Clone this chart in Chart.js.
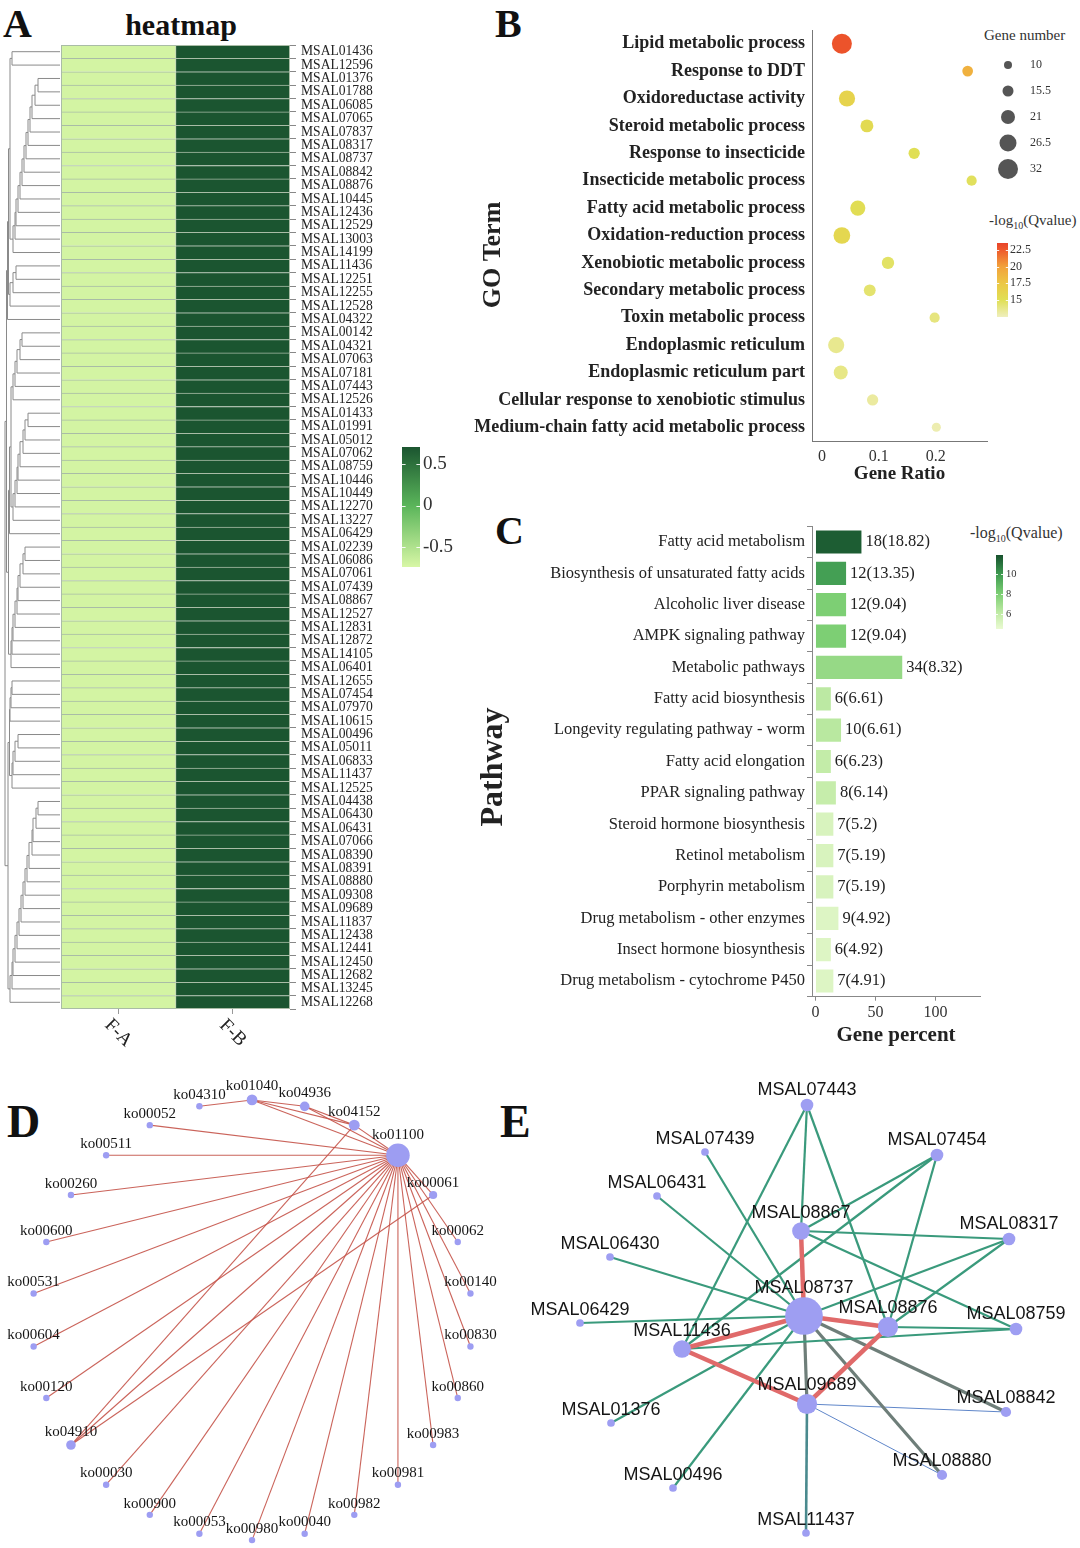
<!DOCTYPE html>
<html><head><meta charset="utf-8">
<script src="https://cdn.jsdelivr.net/npm/chart.js@4.4.1/dist/chart.umd.min.js"></script>
<style>
html,body{margin:0;padding:0;background:#fff;}
body{width:1080px;height:1548px;position:relative;overflow:hidden;font-family:'Liberation Serif',serif;color:#111;}
canvas{position:absolute;}
.t{position:absolute;white-space:nowrap;line-height:1;color:#111;}
.sub{font-size:10px;position:relative;top:4px;}
</style></head><body>
<div class="t" style="left:3px;top:0;font:bold 40px 'Liberation Serif'">A</div>
<div class="t" style="left:495px;top:0;font:bold 40px 'Liberation Serif'">B</div>
<div class="t" style="left:495px;top:507px;font:bold 40px 'Liberation Serif'">C</div>
<div class="t" style="left:7px;top:1095px;font:bold 46px 'Liberation Serif'">D</div>
<div class="t" style="left:500px;top:1095px;font:bold 46px 'Liberation Serif'">E</div>
<div class="t" style="left:81px;width:200px;text-align:center;top:8px;font:bold 30px 'Liberation Serif'">heatmap</div>
<div class="t" style="left:984px;top:27px;font:15px 'Liberation Serif';color:#333">Gene number</div>
<div class="t" style="left:989px;top:212px;font:15px 'Liberation Serif';color:#333">-log<span class="sub">10</span>(Qvalue)</div>
<div class="t" style="left:970px;top:524px;font:16px 'Liberation Serif';color:#333">-log<span class="sub">10</span>(Qvalue)</div>
<script>
// ---------------- DATA ----------------
const genes = ['MSAL01436','MSAL12596','MSAL01376','MSAL01788','MSAL06085','MSAL07065','MSAL07837','MSAL08317','MSAL08737','MSAL08842','MSAL08876','MSAL10445',
'MSAL12436','MSAL12529','MSAL13003','MSAL14199','MSAL11436','MSAL12251','MSAL12255','MSAL12528','MSAL04322','MSAL00142','MSAL04321','MSAL07063',
'MSAL07181','MSAL07443','MSAL12526','MSAL01433','MSAL01991','MSAL05012','MSAL07062','MSAL08759','MSAL10446','MSAL10449','MSAL12270','MSAL13227',
'MSAL06429','MSAL02239','MSAL06086','MSAL07061','MSAL07439','MSAL08867','MSAL12527','MSAL12831','MSAL12872','MSAL14105','MSAL06401','MSAL12655',
'MSAL07454','MSAL07970','MSAL10615','MSAL00496','MSAL05011','MSAL06833','MSAL11437','MSAL12525','MSAL04438','MSAL06430','MSAL06431','MSAL07066',
'MSAL08390','MSAL08391','MSAL08880','MSAL09308','MSAL09689','MSAL11837','MSAL12438','MSAL12441','MSAL12450','MSAL12682','MSAL13245','MSAL12268'];
const samples = ['F-A','F-B'];
const heatFA = [-0.71,-0.71,-0.71,-0.71,-0.71,-0.71,-0.71,-0.71,-0.71,-0.71,-0.71,-0.71,
-0.71,-0.71,-0.71,-0.71,-0.71,-0.71,-0.71,-0.71,-0.71,-0.71,-0.71,-0.71,
-0.71,-0.71,-0.71,-0.71,-0.71,-0.71,-0.71,-0.71,-0.71,-0.71,-0.71,-0.71,
-0.71,-0.71,-0.71,-0.71,-0.71,-0.71,-0.71,-0.71,-0.71,-0.71,-0.71,-0.71,
-0.71,-0.71,-0.71,-0.71,-0.71,-0.71,-0.71,-0.71,-0.71,-0.71,-0.71,-0.71,
-0.71,-0.71,-0.71,-0.71,-0.71,-0.71,-0.71,-0.71,-0.71,-0.71,-0.71,-0.71];
const heatFB = [0.71,0.71,0.71,0.71,0.71,0.71,0.71,0.71,0.71,0.71,0.71,0.71,
0.71,0.71,0.71,0.71,0.71,0.71,0.71,0.71,0.71,0.71,0.71,0.71,
0.71,0.71,0.71,0.71,0.71,0.71,0.71,0.71,0.71,0.71,0.71,0.71,
0.71,0.71,0.71,0.71,0.71,0.71,0.71,0.71,0.71,0.71,0.71,0.71,
0.71,0.71,0.71,0.71,0.71,0.71,0.71,0.71,0.71,0.71,0.71,0.71,
0.71,0.71,0.71,0.71,0.71,0.71,0.71,0.71,0.71,0.71,0.71,0.71];
const heatTicks = [0.5, 0, -0.5];
// dendrogram: ladders of consecutive leaves (merge heights) then merges between them
const dendroGroups = [
 {from:0, to:1, h:[48]},
 {from:2, to:15, h:[22,25,28,30,32,34,36,38,40,42,44,45,47]},
 {from:16, to:19, h:[44,47,50]},
 {from:20, to:20, h:[]},
 {from:21, to:26, h:[38,40,43,45,47]},
 {from:27, to:35, h:[32,35,37,40,42,43,45,47]},
 {from:36, to:36, h:[]},
 {from:37, to:46, h:[35,37,40,42,43,45,47,48,49]},
 {from:47, to:50, h:[48,49,50]},
 {from:51, to:55, h:[42,45,47,48]},
 {from:56, to:71, h:[22,24,27,28,31,33,35,37,39,41,43,45,47,48,50]}
];
const dendroTop = [
 ['g0','g1',50],['m0','g2',51.5],['m1','g3',52.5],['g4','g5',49],['m3','g6',50.5],
 ['m4','g7',51.5],['m2','m5',53.5],['g8','g9',50.5],['m7','g10',52],['m6','m8',55]
];

const goTerms = ['Lipid metabolic process','Response to DDT','Oxidoreductase activity','Steroid metabolic process','Response to insecticide','Insecticide metabolic process','Fatty acid metabolic process','Oxidation-reduction process','Xenobiotic metabolic process','Secondary metabolic process','Toxin metabolic process','Endoplasmic reticulum','Endoplasmic reticulum part','Cellular response to xenobiotic stimulus','Medium-chain fatty acid metabolic process'];
const goRatio = [0.035,0.256,0.044,0.079,0.162,0.263,0.063,0.035,0.116,0.084,0.198,0.025,0.033,0.089,0.201];
const goCount = [32,15,25,19,16,14,23,26,18,17,14,25,21,16,12];
const goQ = [22.8,19.0,16.3,15.5,15.0,14.8,15.2,15.8,14.6,14.4,14.0,13.6,13.8,13.2,12.8];
const goTicks = [0, 0.1, 0.2];
const geneLegend = [10, 15.5, 21, 26.5, 32];
const goQTicks = [22.5, 20, 17.5, 15];

const pathNames = ['Fatty acid metabolism','Biosynthesis of unsaturated fatty acids','Alcoholic liver disease','AMPK signaling pathway','Metabolic pathways','Fatty acid biosynthesis','Longevity regulating pathway - worm','Fatty acid elongation','PPAR signaling pathway','Steroid hormone biosynthesis','Retinol metabolism','Porphyrin metabolism','Drug metabolism - other enzymes','Insect hormone biosynthesis','Drug metabolism - cytochrome P450'];
const pathPercent = [38.3,25.5,25.5,25.5,72.3,12.8,21.3,12.8,17.0,14.9,14.9,14.9,19.1,12.8,14.9];
const pathCount = [18,12,12,12,34,6,10,6,8,7,7,7,9,6,7];
const pathValue = ['18.82','13.35','9.04','9.04','8.32','6.61','6.61','6.23','6.14','5.2','5.19','5.19','4.92','4.92','4.91'];
const pathQ = [11.6,9.8,8.0,8.0,7.3,6.2,6.3,6.0,5.9,5.2,5.2,5.2,5.0,5.0,5.0];
const pathTicks = [0, 50, 100];
const pathQTicks = [10, 8, 6];

const koNodes = ['ko01040','ko04936','ko04152','ko01100','ko00061','ko00062','ko00140','ko00830','ko00860','ko00983','ko00981','ko00982','ko00040','ko00980','ko00053','ko00900','ko00030','ko04910','ko00120','ko00604','ko00531','ko00600','ko00260','ko00511','ko00052','ko04310'];
const koEdges = [
 ['ko01100','ko01040'],['ko01100','ko04936'],['ko01100','ko04152'],['ko01100','ko00061'],['ko01100','ko00062'],['ko01100','ko00140'],
 ['ko01100','ko00830'],['ko01100','ko00860'],['ko01100','ko00983'],['ko01100','ko00981'],['ko01100','ko00982'],['ko01100','ko00040'],
 ['ko01100','ko00980'],['ko01100','ko00053'],['ko01100','ko00900'],['ko01100','ko00030'],['ko01100','ko04910'],['ko01100','ko00120'],
 ['ko01100','ko00604'],['ko01100','ko00531'],['ko01100','ko00600'],['ko01100','ko00260'],['ko01100','ko00511'],['ko01100','ko00052'],
 ['ko04310','ko01040'],['ko01040','ko04936'],['ko01040','ko04152'],['ko04936','ko04152'],['ko04152','ko04910'],['ko00061','ko04910']
];

const msNodes = ['MSAL07443','MSAL07439','MSAL07454','MSAL06431','MSAL08867','MSAL08317','MSAL06430','MSAL08737','MSAL08876','MSAL08759','MSAL06429','MSAL11436','MSAL09689','MSAL08842','MSAL01376','MSAL08880','MSAL00496','MSAL11437'];
const msLayoutX = [0.03,-0.99,1.33,-1.47,-0.03,2.05,-1.94,0,0.84,2.12,-2.24,-1.22,0.03,2.02,-1.93,1.38,-1.31,0.02];
const msLayoutY = [-2.11,-1.64,-1.61,-1.20,-0.85,-0.77,-0.59,0,0.11,0.13,0.07,0.33,0.88,0.96,1.07,1.59,1.72,2.17];
const msEdges = [
 ['MSAL07443','MSAL11436','co'],['MSAL07443','MSAL08867','co'],['MSAL07443','MSAL08876','co'],['MSAL07439','MSAL08737','co'],
 ['MSAL07454','MSAL08867','co'],['MSAL07454','MSAL11436','co'],['MSAL07454','MSAL08876','co'],['MSAL06431','MSAL08737','co'],
 ['MSAL06430','MSAL08737','co'],['MSAL06429','MSAL08737','co'],['MSAL08867','MSAL08317','co'],['MSAL08867','MSAL08759','co'],
 ['MSAL08317','MSAL08737','co'],['MSAL08317','MSAL08876','co'],['MSAL11436','MSAL08759','co'],['MSAL08876','MSAL08759','co'],
 ['MSAL01376','MSAL08737','co'],['MSAL00496','MSAL08737','co'],
 ['MSAL08737','MSAL09689','grey'],['MSAL08737','MSAL08842','grey'],['MSAL08737','MSAL08880','grey'],
 ['MSAL09689','MSAL08842','weak'],['MSAL09689','MSAL08880','weak'],['MSAL09689','MSAL11437','teal'],
 ['MSAL08867','MSAL08737','strong'],['MSAL08737','MSAL11436','strong'],['MSAL08737','MSAL08876','strong'],
 ['MSAL11436','MSAL09689','strong'],['MSAL09689','MSAL08876','strong']
];

// ---------------- HELPERS ----------------
Chart.defaults.font.family = "'Liberation Serif', serif";
Chart.defaults.color = '#222';
Chart.defaults.animation = false;
Chart.defaults.responsive = false;
Chart.defaults.events = [];
Chart.defaults.layout.autoPadding = false;
Chart.defaults.plugins.legend.display = false;
Chart.defaults.plugins.tooltip.enabled = false;

function mk(left, top, w, h) {
  const c = document.createElement('canvas');
  c.width = w; c.height = h;
  c.style.left = left + 'px'; c.style.top = top + 'px';
  c.style.width = w + 'px'; c.style.height = h + 'px';
  document.body.appendChild(c);
  return c.getContext('2d');
}
function hex2rgb(h){return [parseInt(h.slice(1,3),16),parseInt(h.slice(3,5),16),parseInt(h.slice(5,7),16)];}
function scaleColor(stops, v){
  if (v <= stops[0][0]) return stops[0][1];
  for (let i = 1; i < stops.length; i++) {
    if (v <= stops[i][0]) {
      const t = (v - stops[i-1][0]) / (stops[i][0] - stops[i-1][0]);
      const a = hex2rgb(stops[i-1][1]), b = hex2rgb(stops[i][1]);
      return 'rgb(' + a.map((c,k)=>Math.round(c + (b[k]-c)*t)).join(',') + ')';
    }
  }
  return stops[stops.length-1][1];
}
const heatStops = [[-0.742,'#d8f7a6'],[0,'#5ab55a'],[0.706,'#1b5530']];
const goStops = [[12.45,'#efefbe'],[15,'#e0df55'],[17.5,'#ecc744'],[20,'#f2a23c'],[22.5,'#ee5a2c'],[23.55,'#e8432a']];
const pathStops = [[4.5,'#eafad2'],[6,'#c3eca8'],[8,'#7dcf74'],[10,'#3e9a50'],[11.9,'#17512d']];
const geneR = n => 4 + (n - 10) * 6 / 22;

function colorBar(left, top, barW, barH, stops, tickVals, fontSize, labelPad, labelW) {
  const pad = 24, min = stops[0][0], max = stops[stops.length-1][0];
  const tickMarks = {id:'cbTicks', afterDatasetsDraw(chart){
    const {ctx, chartArea:a, scales:{y}} = chart; const w = Math.max(2, (a.right-a.left)/5);
    ctx.save(); ctx.strokeStyle = 'rgba(255,255,255,0.9)'; ctx.lineWidth = 1;
    tickVals.forEach(v=>{ const py = Math.round(y.getPixelForValue(v))+0.5; ctx.beginPath();
      ctx.moveTo(a.left,py); ctx.lineTo(a.left+w,py); ctx.moveTo(a.right-w,py); ctx.lineTo(a.right,py); ctx.stroke(); });
    ctx.restore(); }};
  new Chart(mk(left, top - pad, barW + labelW, barH + 2*pad), {
    type:'bar',
    data:{labels:[''], datasets:[{data:[[min,max]], borderWidth:0, barPercentage:1, categoryPercentage:1,
      backgroundColor:(c)=>{ const a=c.chart.chartArea; if(!a) return stops[0][1];
        const g=c.chart.ctx.createLinearGradient(0,a.bottom,0,a.top);
        stops.forEach(s=>g.addColorStop((s[0]-min)/(max-min), s[1])); return g; }}]},
    options:{layout:{padding:{top:pad,bottom:pad,left:0,right:0}},
      scales:{x:{display:false},
        y:{position:'right', min, max, afterFit:s=>{s.width=labelW;},
           afterBuildTicks:s=>{s.ticks=tickVals.map(v=>({value:v}));},
           grid:{display:false, drawTicks:false}, border:{display:false},
           ticks:{padding:labelPad, font:{size:fontSize}, color:'#333', callback:v=>String(v)}}}},
    plugins:[tickMarks]
  });
}

// ---------------- A: heatmap ----------------
const dendroPlugin = {id:'dendro', afterDraw(chart){
  const {ctx, chartArea:a, scales:{x, y}} = chart;
  ctx.save();
  ctx.strokeStyle = '#a9bca6'; ctx.lineWidth = 1;
  ctx.strokeRect(a.left+0.5, a.top+0.5, a.right-a.left-1, a.bottom-a.top-1);
  ctx.strokeStyle = '#8a8a8a'; ctx.lineWidth = 1;
  const X = h => a.left - 1 - h;
  const seg = (x1,y1,x2,y2)=>{ctx.beginPath();ctx.moveTo(x1,y1);ctx.lineTo(x2,y2);ctx.stroke();};
  const link = (p,q,h)=>{ seg(X(p.h),p.y,X(h),p.y); seg(X(q.h),q.y,X(h),q.y); seg(X(h),p.y,X(h),q.y); return {y:(p.y+q.y)/2, h}; };
  const nodes = {};
  dendroGroups.forEach((g,gi)=>{
    let cur = {y:y.getPixelForValue(g.from), h:0};
    g.h.forEach((h,k)=>{ cur = link(cur, {y:y.getPixelForValue(g.from+k+1), h:0}, h); });
    nodes['g'+gi] = cur;
  });
  dendroTop.forEach((m,mi)=>{ nodes['m'+mi] = link(nodes[m[0]], nodes[m[1]], m[2]); });
  ctx.fillStyle = '#222'; ctx.font = "19px 'Liberation Serif'"; ctx.textAlign='center'; ctx.textBaseline='middle';
  samples.forEach((s,i)=>{ ctx.save(); ctx.translate(x.getPixelForValue(i+0.5), a.bottom+24); ctx.rotate(Math.PI/4); ctx.fillText(s,0,0); ctx.restore(); });
  ctx.restore();
}};
new Chart(mk(0,0,400,1060), {
  type:'bar',
  data:{labels:genes, datasets:[
    {label:samples[0], data:heatFA.map(()=>1), backgroundColor:heatFA.map(v=>scaleColor(heatStops,v))},
    {label:samples[1], data:heatFB.map(()=>1), backgroundColor:heatFB.map(v=>scaleColor(heatStops,v))}]},
  options:{indexAxis:'y',
    layout:{padding:{left:61, top:45, right:0, bottom:41}},
    datasets:{bar:{barPercentage:1, categoryPercentage:1, borderWidth:{top:1,left:1,right:0,bottom:0}, borderColor:'#a9bca6', borderSkipped:false}},
    scales:{
      x:{type:'linear', stacked:true, min:0, max:2, afterFit:s=>{s.height=10;},
         afterBuildTicks:s=>{s.ticks=[{value:0.5},{value:1.5}];},
         ticks:{display:false}, grid:{drawOnChartArea:false, tickLength:5, color:'#999'}, border:{display:false}},
      y:{stacked:true, position:'right', afterFit:s=>{s.width=110;},
         ticks:{autoSkip:false, font:{size:13.6}, color:'#222', padding:5},
         grid:{drawOnChartArea:false, tickLength:6, color:'#888'}, border:{display:false}}
    }},
  plugins:[dendroPlugin]
});
colorBar(402, 447, 18, 120, heatStops, heatTicks, 19, 3, 50);

// ---------------- B: GO bubble ----------------
function yTitlePlugin(text, cx, cy, font){ return {id:'ytitle', afterDraw(chart){
  const ctx = chart.ctx; ctx.save(); ctx.translate(cx, cy); ctx.rotate(-Math.PI/2);
  ctx.font = font; ctx.fillStyle = '#222'; ctx.textAlign='center'; ctx.textBaseline='middle';
  ctx.fillText(text, 0, 0); ctx.restore(); }}; }
new Chart(mk(470,0,520,492), {
  type:'bubble',
  data:{datasets:[{data:goTerms.map((t,i)=>({x:goRatio[i], y:t, r:geneR(goCount[i])})),
    backgroundColor:goQ.map(q=>scaleColor(goStops,q)), borderWidth:0}]},
  options:{layout:{padding:{top:30, right:3, left:0, bottom:0}},
    scales:{
      x:{type:'linear', min:-0.0175, max:0.29, afterFit:s=>{s.height=51;},
         afterBuildTicks:s=>{s.ticks=goTicks.map(v=>({value:v}));},
         grid:{display:false, drawTicks:false}, border:{color:'#777'},
         ticks:{font:{size:16}, color:'#333', padding:6},
         title:{display:true, text:'Gene Ratio', font:{size:19, weight:'bold'}, color:'#222', padding:{top:0,bottom:7}}},
      y:{type:'category', labels:goTerms, offset:true, afterFit:s=>{s.width=342;},
         grid:{display:false, drawTicks:false}, border:{color:'#777'},
         ticks:{autoSkip:false, font:{size:18, weight:'bold'}, color:'#222', padding:7}}
    }},
  plugins:[yTitlePlugin('GO Term', 23, 255, "bold 26px 'Liberation Serif'")]
});
// gene number size legend (padding keeps the category band at 52..182 page px)
new Chart(mk(996,27,84,180), {
  type:'bubble',
  data:{datasets:[{data:geneLegend.map(v=>({x:0, y:String(v), r:geneR(v)})), backgroundColor:'#555', borderWidth:0, clip:false}]},
  options:{layout:{padding:{top:25, bottom:25, left:0, right:0}},
    scales:{x:{display:false, min:-1, max:1},
      y:{type:'category', labels:geneLegend.map(String), offset:true, position:'right', afterFit:s=>{s.width=60;},
         grid:{display:false, drawTicks:false}, border:{display:false}, ticks:{font:{size:12}, color:'#333', padding:10}}}}
});
colorBar(997, 243, 11, 74, goStops, goQTicks, 12, 2, 40);

// ---------------- C: KEGG bar ----------------
const valueLabels = {id:'valueLabels', afterDatasetsDraw(chart){
  const ctx = chart.ctx; const meta = chart.getDatasetMeta(0);
  ctx.save(); ctx.font = "16.5px 'Liberation Serif'"; ctx.fillStyle='#222'; ctx.textAlign='left'; ctx.textBaseline='middle';
  meta.data.forEach((el,i)=>{ ctx.fillText(pathCount[i] + '(' + pathValue[i] + ')', el.x + 4, el.y); });
  ctx.restore(); }};
new Chart(mk(470,505,520,545), {
  type:'bar',
  data:{labels:pathNames, datasets:[{data:pathPercent, backgroundColor:pathQ.map(q=>scaleColor(pathStops,q)),
    barPercentage:0.74, categoryPercentage:1, borderWidth:0}]},
  options:{indexAxis:'y', layout:{padding:{top:21.3, right:10, left:0, bottom:0}},
    scales:{
      x:{type:'linear', min:-2.9, max:137.1, afterFit:s=>{s.height=53.3;},
         afterBuildTicks:s=>{s.ticks=pathTicks.map(v=>({value:v}));},
         grid:{drawOnChartArea:false, tickLength:4, color:'#888'}, border:{color:'#888'},
         ticks:{font:{size:16}, color:'#333', padding:2},
         title:{display:true, text:'Gene percent', font:{size:21, weight:'bold'}, color:'#222', padding:{top:0,bottom:2}}},
      y:{afterFit:s=>{s.width=342;},
         grid:{drawOnChartArea:false, tickLength:5, color:'#888'}, border:{color:'#888'},
         ticks:{autoSkip:false, font:{size:16.5}, color:'#222', padding:2}}
    }},
  plugins:[valueLabels, yTitlePlugin('Pathway', 24, 262, "bold 32px 'Liberation Serif'")]
});
colorBar(996, 555, 7, 74, pathStops, pathQTicks, 10.5, 3, 30);

// ---------------- network helpers ----------------
function labelPlugin(nodes, font, gap){ return {id:'nodeLabels', afterDatasetsDraw(chart){
  const {ctx, scales:{x,y}} = chart; ctx.save(); ctx.font = font; ctx.fillStyle='#151515';
  ctx.textAlign='center'; ctx.textBaseline='middle';
  nodes.forEach(n=>{ ctx.fillText(n.name, x.getPixelForValue(n.x), y.getPixelForValue(n.y) - n.r - gap); });
  ctx.restore(); }}; }
function degrees(names, edges){ const d = {}; names.forEach(n=>d[n]=0); edges.forEach(e=>{d[e[0]]++; d[e[1]]++;}); return d; }

// ---------------- D: KEGG network (circular layout) ----------------
const koDeg = degrees(koNodes, koEdges);
const koPos = {};
koNodes.forEach((n,i)=>{ const t = (-90 + i*360/koNodes.length) * Math.PI/180; koPos[n] = {x:Math.cos(t), y:Math.sin(t)}; });
const koNodeData = koNodes.map(n=>({name:n, x:koPos[n].x, y:koPos[n].y, r:1 + 2.2*Math.sqrt(koDeg[n])}));
new Chart(mk(0,1070,500,478), {
  type:'scatter',
  data:{datasets:[
    {type:'bubble', data:koNodeData.map(n=>({x:n.x, y:n.y, r:n.r})), backgroundColor:'#9d9df2', borderWidth:0, order:1},
    ...koEdges.map(([a,b])=>({type:'line', data:[koPos[a], koPos[b]], borderColor:'rgba(196,82,72,0.9)', borderWidth:1.1, pointRadius:0, fill:false, tension:0, order:2}))
  ]},
  options:{layout:{padding:0},
    scales:{x:{type:'linear', display:false, min:-1.1455, max:1.127},
            y:{type:'linear', display:false, reverse:true, min:-1.136, max:1.036}}},
  plugins:[labelPlugin(koNodeData, "15px 'Liberation Serif'", 8)]
});

// ---------------- E: gene network ----------------
const msDeg = degrees(msNodes, msEdges);
const msPos = {};
msNodes.forEach((n,i)=>{ msPos[n] = {x:msLayoutX[i], y:msLayoutY[i]}; });
const msNodeData = msNodes.map(n=>({name:n, x:msPos[n].x, y:msPos[n].y, r:2.6 + 1.25*msDeg[n]}));
const edgeStyle = {co:['#3a9a7c',2.2], strong:['#e06a6a',4.5], grey:['#6e7e79',3.2], weak:['#5f86c9',1], teal:['#4a8a8e',2.6]};
new Chart(mk(500,1070,580,478), {
  type:'scatter',
  data:{datasets:[
    {type:'bubble', data:msNodeData.map(n=>({x:n.x, y:n.y, r:n.r})), backgroundColor:'#9e9ef2', borderWidth:0, order:1},
    ...msEdges.map(([a,b,k])=>({type:'line', data:[msPos[a], msPos[b]], borderColor:edgeStyle[k][0], borderWidth:edgeStyle[k][1], pointRadius:0, fill:false, tension:0, order:(k==='strong'?2:3)}))
  ]},
  options:{layout:{padding:0},
    scales:{x:{type:'linear', display:false, min:-3.04, max:2.76},
            y:{type:'linear', display:false, reverse:true, min:-2.46, max:2.32}}},
  plugins:[labelPlugin(msNodeData, "18px 'Liberation Sans'", 9)]
});
</script>
</body></html>
